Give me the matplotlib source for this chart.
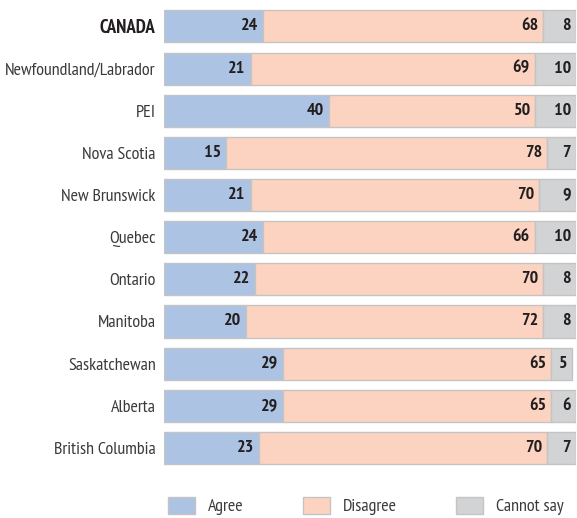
import matplotlib
matplotlib.use("Agg")
import matplotlib.pyplot as plt
from matplotlib.patches import Patch
from matplotlib import font_manager

categories = ["CANADA", "Newfoundland/Labrador", "PEI", "Nova Scotia", "New Brunswick",
              "Quebec", "Ontario", "Manitoba", "Saskatchewan", "Alberta", "British Columbia"]
agree = [24, 21, 40, 15, 21, 24, 22, 20, 29, 29, 23]
disagree = [68, 69, 50, 78, 70, 66, 70, 72, 65, 65, 70]
cannot_say = [8, 10, 10, 7, 9, 10, 8, 8, 5, 6, 7]
series_names = ["Agree", "Disagree", "Cannot say"]

names = {f.name for f in font_manager.fontManager.ttflist}
fam = "DejaVu Sans"
for cand in ["PT Sans Narrow", "Fira Sans Condensed", "Archivo Narrow", "Asap Condensed"]:
    if cand in names:
        fam = cand
        break
plt.rcParams["font.family"] = [fam, "DejaVu Sans"]

colors = ["#adc3e3", "#fcd3c1", "#d1d3d4"]
edge = "#c4c4c4"
FS = 13

W, H = 577, 518
fig = plt.figure(figsize=(W / 100, H / 100), dpi=100)
top_px, bot_px = 5.4, 469
ax = fig.add_axes([164 / W, 1 - bot_px / H, (576 - 164) / W, (bot_px - top_px) / H])

y = list(range(len(categories)))
left = [0] * len(categories)
for vals, col in zip([agree, disagree, cannot_say], colors):
    ax.barh(y, vals, left=left, height=0.76, color=col, edgecolor=edge, linewidth=1.0)
    for yi, v, l in zip(y, vals, left):
        ax.text(l + v - 1.2, yi, str(v), ha="right", va="center", fontsize=FS,
                fontweight="bold", color="#231f20")
    left = [a + b for a, b in zip(left, vals)]

ax.set_xlim(0, 100)
ax.set_ylim(len(categories) - 0.5, -0.5)
ax.set_yticks(y)
ax.set_yticklabels(categories, fontsize=FS, color="#3a3a3a", fontweight="light")
for lbl in ax.get_yticklabels():
    if lbl.get_text() == "CANADA":
        lbl.set_fontweight("bold")
        lbl.set_color("#231f20")
        lbl.set_fontsize(FS + 0.5)
ax.tick_params(axis="y", length=0, pad=6)
ax.set_xticks([])
for s in ax.spines.values():
    s.set_visible(False)

fs_px = FS * 100 / 72
handles = [Patch(facecolor=c, edgecolor=edge, linewidth=1.0) for c in colors]
fig.legend(handles, series_names, loc="center left",
           bbox_to_anchor=((168 - 0.4 * fs_px) / W, 1 - 506 / H),
           borderaxespad=0, ncol=3, frameon=False,
           handlelength=27 / fs_px, handleheight=20 / fs_px,
           handletextpad=13 / fs_px, columnspacing=59 / fs_px, labelcolor="#3a3a3a",
           prop={"family": fam, "size": FS, "weight": "light"})

fig.savefig("out.png", dpi=100)
